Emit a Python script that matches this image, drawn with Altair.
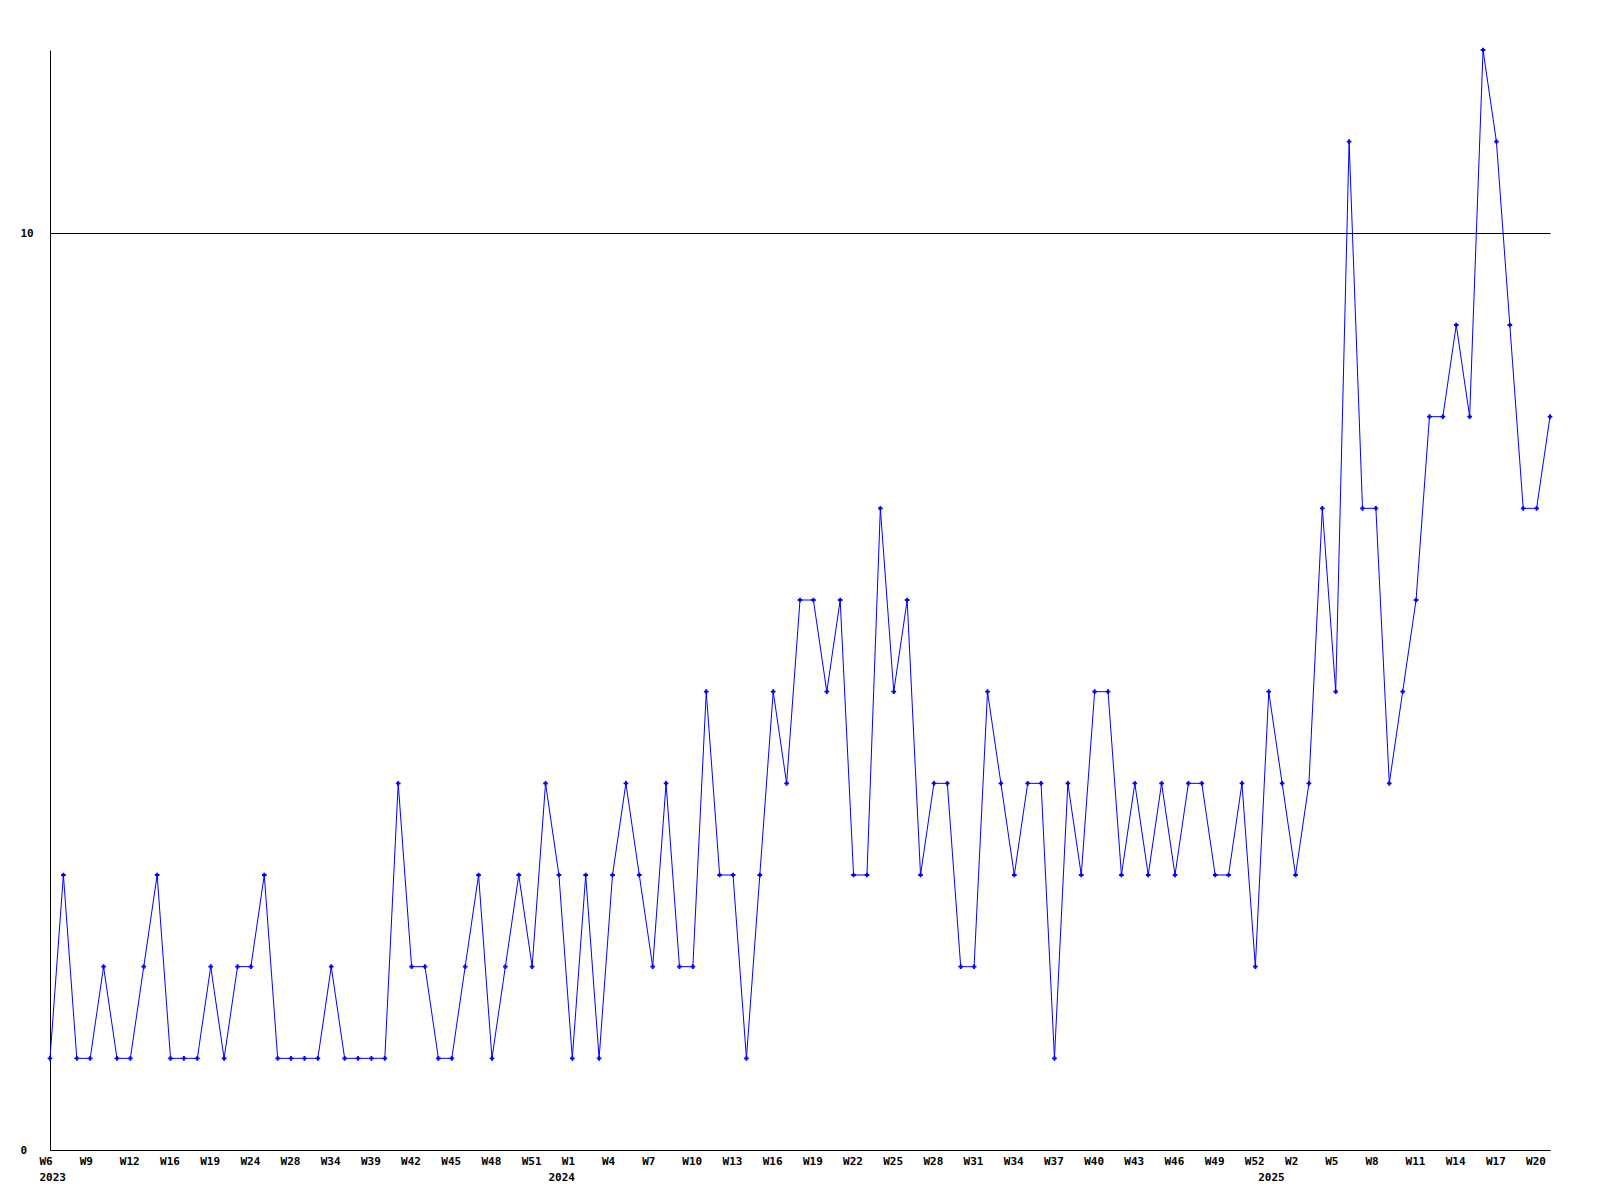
import altair as alt
import pandas as pd

# Week labels of each data point (weeks with no entries are absent in 2023)
weeks_2023 = ["W6", "W7", "W8", "W9", "W10", "W11", "W12", "W14", "W15", "W16",
              "W17", "W18", "W19", "W21", "W22", "W24", "W25", "W26", "W28", "W30",
              "W32", "W34", "W36", "W37", "W39", "W40", "W41", "W42", "W43", "W44",
              "W45", "W46", "W47", "W48", "W49", "W50", "W51", "W52"]
weeks_2024 = ["W%d" % w for w in range(0, 53)]
weeks_2025 = ["W%d" % w for w in range(0, 22)]

counts = [1, 3, 1, 1, 2, 1, 1, 2, 3, 1,
          1, 1, 2, 1, 2, 2, 3, 1, 1, 1,
          1, 2, 1, 1, 1, 1, 4, 2, 2, 1,
          1, 2, 3, 1, 2, 3, 2, 4, 3, 1,
          3, 1, 3, 4, 3, 2, 4, 2, 2, 5,
          3, 3, 1, 3, 5, 4, 6, 6, 5, 6,
          3, 3, 7, 5, 6, 3, 4, 4, 2, 2,
          5, 4, 3, 4, 4, 1, 4, 3, 5, 5,
          3, 4, 3, 4, 3, 4, 4, 3, 3, 4,
          2, 5, 4, 3, 4, 7, 5, 11, 7, 7,
          4, 5, 6, 8, 8, 9, 8, 12, 11, 9,
          7, 7, 8]

y_ticks = [0, 10]

weeks = weeks_2023 + weeks_2024 + weeks_2025
years = (["2023"] * len(weeks_2023) + ["2024"] * len(weeks_2024)
         + ["2025"] * len(weeks_2025))
n = len(weeks)

df = pd.DataFrame({"idx": list(range(n)), "week": weeks, "year": years,
                   "count": counts[:n]})

week_lab = df[df["idx"] % 3 == 0]
year_lab = df.drop_duplicates("year", keep="first")

FONT = "DejaVu Sans Mono"
BLUE = "#0000ff"

xscale = alt.Scale(domain=[0, n - 1], nice=False, zero=False)

x_enc = alt.X("idx:Q", scale=xscale,
              axis=alt.Axis(labels=False, ticks=False, grid=False, title=None,
                            domainColor="black", domainWidth=1))
y_enc = alt.Y("count:Q", scale=alt.Scale(domain=[0, 12], nice=False),
              axis=alt.Axis(values=y_ticks, format="d", grid=True, gridColor="black",
                            gridWidth=1, gridOpacity=1, ticks=False, tickSize=0,
                            labelAlign="left", labelPadding=30,
                            labelFont=FONT, labelFontWeight="bold",
                            labelFontSize=11, labelColor="black",
                            domainColor="black", domainWidth=1, title=None))

line = alt.Chart(df).mark_line(color=BLUE, strokeWidth=1).encode(x=x_enc, y=y_enc)
pts = alt.Chart(df).mark_point(shape="cross", filled=True, color=BLUE,
                               size=22, opacity=1).encode(x="idx:Q", y="count:Q")

wk_text = alt.Chart(week_lab).mark_text(
    align="left", baseline="middle", dx=-10.5, font=FONT, fontWeight="bold",
    fontSize=11, color="black"
).encode(x="idx:Q", y=alt.value(1111.8), text="week:N")

yr_text = alt.Chart(year_lab).mark_text(
    align="left", baseline="middle", dx=-10.5, font=FONT, fontWeight="bold",
    fontSize=11, color="black"
).encode(x="idx:Q", y=alt.value(1127.8), text="year:N")

chart = alt.layer(line, pts, wk_text, yr_text).properties(
    width=1500, height=1100,
    autosize=alt.AutoSizeParams(type="none"),
    padding={"left": 42, "top": 42, "right": 42, "bottom": 50},
    background="white",
).configure_view(stroke=None)

chart.save("out.html", embed_options={"renderer": "svg", "actions": False})
